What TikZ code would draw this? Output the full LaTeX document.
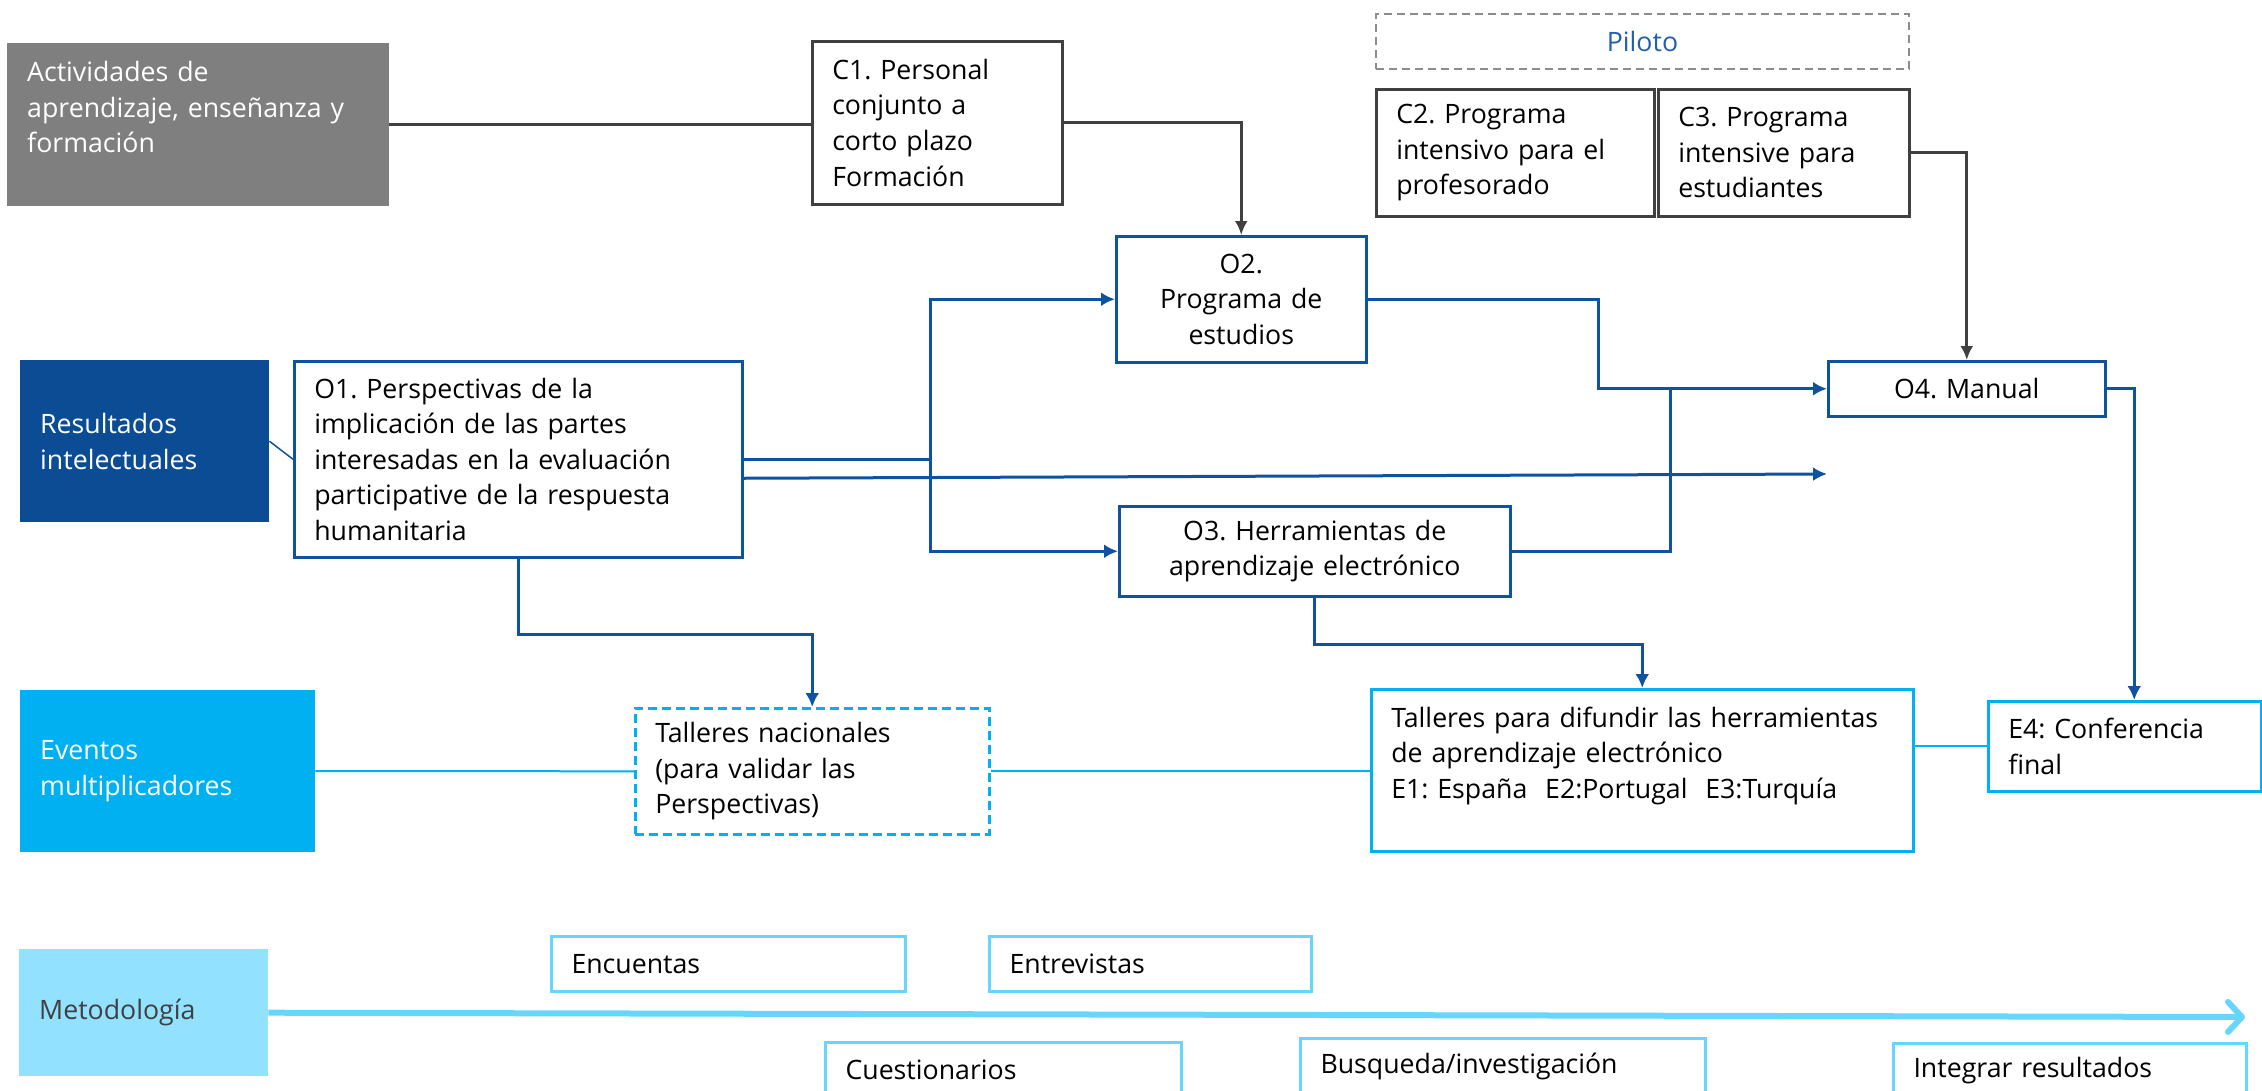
\documentclass[tikz,border=0pt]{standalone}
\usepackage{fontspec}
\setmainfont{Open Sans}
\usetikzlibrary{arrows.meta}
\definecolor{gfill}{HTML}{7F7F7F}
\definecolor{dgray}{HTML}{404040}
\definecolor{dblue}{HTML}{0B4C94}
\definecolor{lblue}{HTML}{0F52A0}
\definecolor{cyanb}{HTML}{00B0F0}
\definecolor{lcyan}{HTML}{92E1FF}
\definecolor{mcyan}{HTML}{66D6FF}
\definecolor{pblue}{HTML}{2160AC}
\definecolor{dashg}{HTML}{8C8C8C}
\begin{document}
\frenchspacing
\begin{tikzpicture}[x=1pt,y=-1pt,
  every node/.style={font=\fontsize{26.7}{35.6}\selectfont, inner xsep=20pt, inner ysep=0pt,
    anchor=north west, rectangle, text=black, align=left},
  fillbox/.style={fill=#1, text=white},
  graybox/.style={draw=dgray, line width=2.5pt, fill=white},
  bluebox/.style={draw=lblue, line width=2.5pt, fill=white},
  cyanbox/.style={draw=cyanb, line width=2.5pt, fill=white},
  methbox/.style={draw=mcyan, line width=3pt, fill=white, minimum height=55pt},
  garr/.style={draw=dgray, line width=3pt, -{Latex[length=14pt,width=13pt]}},
  barr/.style={draw=lblue, line width=3pt, -{Latex[length=14pt,width=14pt]}},
  bline/.style={draw=lblue, line width=3pt},
  cline/.style={draw=cyanb, line width=2pt}
]
\useasboundingbox (0,0) rectangle (2262,1090);
\clip (0,0) rectangle (2262,1090);

% row 1
\node[fillbox=gfill, text width=342pt, minimum height=163pt] (act) at (7,43)
  {Actividades de\\aprendizaje, enseñanza y\\formación\\\mbox{}};
\node[graybox, text width=210pt, minimum height=163pt] (c1) at (811,40)
  {C1. Personal\\conjunto a\\corto plazo\\Formación};
\node[draw=dashg, dash pattern=on 8pt off 5pt, line width=2pt, text=pblue, align=center, text width=493pt, minimum height=55pt] (pil) at (1375,13)
  {Piloto};
\node[graybox, text width=238pt, minimum height=127pt] (c2) at (1375,88)
  {C2. Programa\\intensivo para el\\profesorado};
\node[graybox, text width=211pt, minimum height=127pt] (c3) at (1657,88)
  {C3. Programa\\intensive para\\estudiantes};

% row 2
\node[bluebox, align=center, text width=210pt, minimum height=126pt] (o2) at (1115,235)
  {O2.\\Programa de\\estudios};
\node[bluebox, align=center, text width=237pt, minimum height=55pt] (o4) at (1827,360)
  {O4. Manual};
\node[fillbox=dblue, text width=209pt, minimum height=162pt] (res) at (20,360)
  {Resultados\\intelectuales};
\node[bluebox, text width=408pt, minimum height=196pt] (o1) at (293,360)
  {O1. Perspectivas de la\\implicación de las partes\\interesadas en la evaluación\\participative de la respuesta\\humanitaria};
\node[bluebox, align=center, text width=351pt, minimum height=90pt] (o3) at (1118,505)
  {O3. Herramientas de\\aprendizaje electrónico};

% row 3
\node[fillbox=cyanb, text width=255pt, minimum height=162pt] (ev) at (20,690)
  {Eventos\\multiplicadores};
\node[draw=cyanb, dash pattern=on 9pt off 5pt, line width=2.5pt, fill=white, text width=314pt, minimum height=126pt] (tn) at (634,707)
  {Talleres nacionales\\(para validar las\\Perspectivas)};
\node[cyanbox, text width=502pt, minimum height=162pt] (td) at (1370,688)
  {Talleres para difundir las herramientas\\de aprendizaje electrónico\\E1: España\ \ E2:Portugal\ \ E3:Turquía\\\mbox{}};
\node[cyanbox, text width=233pt, minimum height=90pt] (e4) at (1987,700)
  {E4: Conferencia\\final};

% row 4
\node[fill=lcyan, text=dgray, text width=209pt, minimum height=127pt] (met) at (19,949)
  {Metodología};
\node[methbox, text width=314pt] (enc) at (550,935) {Encuentas};
\node[methbox, text width=282pt] (ent) at (988,935) {Entrevistas};
\node[methbox, text width=316pt] (cue) at (824,1041) {Cuestionarios};
\node[methbox, text width=365pt] (bus) at (1299,1037) {Busqueda/investigación};
\node[methbox, text width=313pt] (int) at (1892,1042) {Integrar resultados};

% connectors
\draw[draw=dgray, line width=2.5pt] (act.east) -- (act.east -| c1.west);
\draw[garr] (c1.east) -| (o2.north);
\draw[garr] (c3.east) -| (o4.north);

\draw[draw=lblue, line width=1.5pt] (res.east) -- (o1.west);
\draw[barr] (o1.east) -- ++(187,0) coordinate (split) |- (o2.west);
\draw[barr] (split) |- (o3.west);
\coordinate (o1end) at (1827,474);
\draw[barr] ([yshift=-19pt]o1.east) -- (o1end);
\draw[barr] (o2.east) -- ++(231,0) |- (o4.west);
\draw[bline] (o3.east) -- ++(159,0) coordinate (j) -- (j |- o4.west);
\draw[barr] (o4.east) -| ([xshift=9.5pt]e4.north);
\draw[barr] (o1.south) -- ++(0,76) -| (tn.north);
\draw[barr] (o3.south) -- ++(0,47) -| (td.north);

\draw[cline] (ev.east) -- (tn.west);
\draw[cline] (tn.east) -- (tn.east -| td.west);
\draw[cline] (e4.west -| td.east) -- (e4.west);

\coordinate (metend) at (2245,1017);
\draw[draw=mcyan, line width=6pt, -{Straight Barb[length=14pt,width=30pt,round]}] (met.east) -- (metend);
\end{tikzpicture}
\end{document}
